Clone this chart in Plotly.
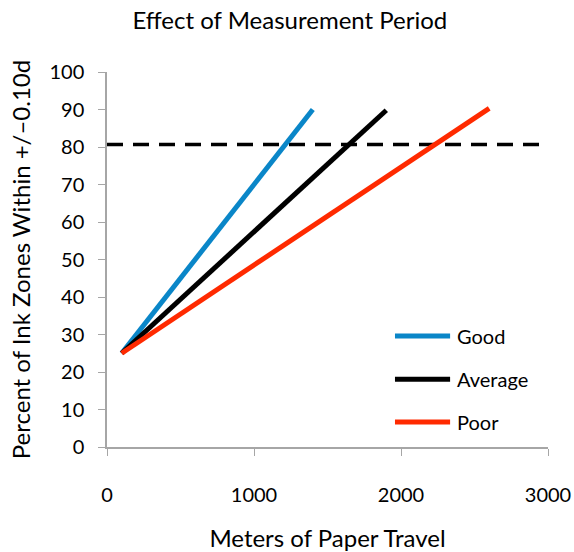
import plotly.graph_objects as go

series_names = ["Good", "Average", "Poor"]
x_good = [100, 1400]
y_good = [25, 90]
x_avg = [100, 1900]
y_avg = [25, 89.8]
x_poor = [100, 2600]
y_poor = [25, 90.3]
x_target = [0, 2980]
y_target = [80.7, 80.7]
colors = ["#0A86C8", "#000000", "#FF2A00"]

FONT = "Lato"

fig = go.Figure()
fig.add_trace(go.Scatter(x=x_target, y=y_target, mode="lines",
                         line=dict(color="black", width=3.5, dash="16px,10px"),
                         showlegend=False, hoverinfo="skip"))
for name, xs, ys, c in zip(series_names, [x_good, x_avg, x_poor],
                           [y_good, y_avg, y_poor], colors):
    fig.add_trace(go.Scatter(x=xs, y=ys, mode="lines", name=name,
                             showlegend=False,
                             line=dict(color=c, width=5)))

# manual legend (paper coordinates)
leg_y = [0.296, 0.181, 0.067]
for name, c, ly in zip(series_names, colors, leg_y):
    fig.add_shape(type="line", xref="paper", yref="paper",
                  x0=0.653, x1=0.778, y0=ly, y1=ly,
                  line=dict(color=c, width=5))
    fig.add_annotation(xref="paper", yref="paper", x=0.789, y=ly,
                       text=name, showarrow=False, xanchor="left",
                       yanchor="middle", font=dict(family=FONT, size=20, color="black"))

fig.update_layout(
    width=574, height=552,
    margin=dict(l=107, r=26, t=72, b=105),
    plot_bgcolor="white", paper_bgcolor="white",
    font=dict(family=FONT, size=20, color="black"),
    title=dict(text="Effect of Measurement Period", x=0.505, xanchor="center",
               y=0.963, yanchor="middle", font=dict(family=FONT, size=24, color="black")),
    showlegend=False,
    xaxis=dict(range=[0, 3000], tickvals=[0, 1000, 2000, 3000],
               showline=True, linecolor="#A6A6A6", linewidth=1.5,
               ticks="outside", ticklen=7, tickcolor="#A6A6A6",
               showgrid=False, zeroline=False, automargin=False,
               ticklabelstandoff=22,
               title=dict(text="Meters of Paper Travel", standoff=28)),
    yaxis=dict(range=[0, 100], dtick=10,
               showline=True, linecolor="#A6A6A6", linewidth=1.5,
               ticks="outside", ticklen=7, tickcolor="#A6A6A6",
               showgrid=False, zeroline=False, automargin=False,
               ticklabelstandoff=10,
               title=dict(text="Percent of Ink Zones Within +/\u20130.10d", standoff=12)),
)

fig.write_html("out.html")
